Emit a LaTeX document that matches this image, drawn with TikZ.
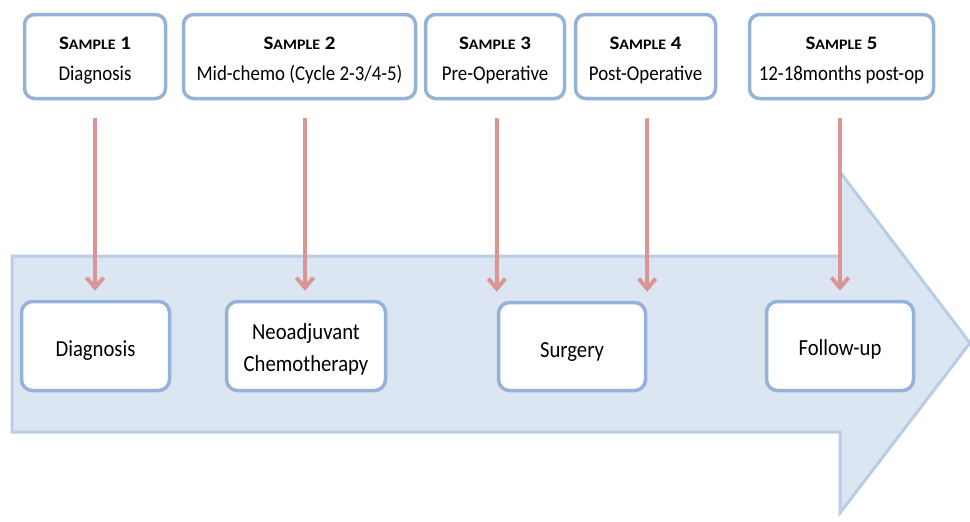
\documentclass[tikz,border=0pt]{standalone}
\usepackage{fontspec}
\setmainfont{Carlito}[FakeStretch=0.9]
\newfontfamily\titlefont{Carlito}[FakeStretch=1.1]
\usetikzlibrary{arrows.meta}
\definecolor{boxline}{RGB}{149,179,215}
\definecolor{arrfill}{RGB}{220,230,242}
\definecolor{arrline}{RGB}{185,205,229}
\definecolor{redarrow}{RGB}{217,150,148}
\newcommand\smplabel[1]{{\titlefont\bfseries\fontsize{19}{19}\selectfont S{\fontsize{14.5}{14.5}\selectfont AMPLE} #1}}
\begin{document}
\begin{tikzpicture}[x=1pt,y=-1pt,
  topbox/.style={draw=boxline, line width=3.5pt, rounded corners=10pt, fill=white, inner sep=0pt},
  botbox/.style={draw=boxline, line width=3.5pt, rounded corners=11pt, fill=white, inner sep=0pt},
  ttl/.style={anchor=base, inner sep=0pt},
  sub/.style={anchor=base, inner sep=0pt, font=\fontsize{21}{21}\selectfont},
  btxt/.style={anchor=base, inner sep=0pt, font=\fontsize{23}{23}\selectfont},
  redarr/.style={draw=redarrow, line width=4pt, -{Straight Barb[length=10pt,width=17pt,line width=4pt]}}]
\useasboundingbox (0,0) rectangle (970,522);
% big timeline arrow
\draw[fill=arrfill, draw=arrline, line width=3pt, line join=miter]
  (12,256) -- (840,256) -- (840,172) -- (970,343) -- (840,513) -- (840,432) -- (12,432) -- cycle;
% top boxes
\node[topbox, minimum width=141pt, minimum height=84pt] (s1) at (95,56.5) {};
\node[topbox, minimum width=232pt, minimum height=84pt] (s2) at (299.5,56.5) {};
\node[topbox, minimum width=139pt, minimum height=84pt] (s3) at (495,56.5) {};
\node[topbox, minimum width=140pt, minimum height=84pt] (s4) at (645.5,56.5) {};
\node[topbox, minimum width=184pt, minimum height=84pt] (s5) at (841.5,56.5) {};
\node[ttl] (t1) at (95,49) {\smplabel{1}};
\node[ttl] (t2) at (299.5,49) {\smplabel{2}};
\node[ttl] (t3) at (495,49) {\smplabel{3}};
\node[ttl] (t4) at (645.5,49) {\smplabel{4}};
\node[ttl] (t5) at (841.5,49) {\smplabel{5}};
\node[sub] (u1) at (95,80) {Diagnosis};
\node[sub] (u2) at (299.5,80) {Mid-chemo (Cycle 2-3/4-5)};
\node[sub] (u3) at (495,80) {Pre-Operative};
\node[sub] (u4) at (645.5,80) {Post-Operative};
\node[sub] (u5) at (841.5,80) {12-18months post-op};
% bottom boxes
\node[botbox, minimum width=148pt, minimum height=89pt] (d) at (95.5,346) {};
\node[botbox, minimum width=159pt, minimum height=89pt] (n) at (306,346) {};
\node[botbox, minimum width=147pt, minimum height=88pt] (su) at (572,346.5) {};
\node[botbox, minimum width=147pt, minimum height=89pt] (f) at (840,346) {};
\node[btxt] (dt) at (95.5,356) {Diagnosis};
\node[btxt] (nt1) at (306,339) {Neoadjuvant};
\node[btxt] (nt2) at (306,371) {Chemotherapy};
\node[btxt] (st) at (572,357) {Surgery};
\node[btxt] (ft) at (840,355) {Follow-up};
% red arrows
\draw[redarr] ([yshift=-18pt]s1.south) -- ([yshift=9pt]s1.south |- d.north);
\draw[redarr] ([xshift=5.5pt,yshift=-18pt]s2.south) -- ([xshift=5.5pt,yshift=9pt]s2.south |- n.north);
\draw[redarr] ([xshift=2pt,yshift=-18pt]s3.south) -- ([yshift=9pt]su.north west -| su.west);
\draw[redarr] ([xshift=1.5pt,yshift=-18pt]s4.south) -- ([yshift=9pt]su.north east -| su.east);
\draw[redarr] ([xshift=-1.5pt,yshift=-18pt]s5.south) -- ([yshift=9pt]f.north);
\end{tikzpicture}
\end{document}
